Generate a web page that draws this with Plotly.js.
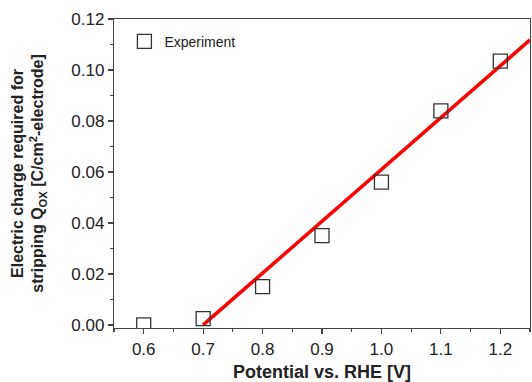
<!DOCTYPE html>
<html>
<head>
<meta charset="utf-8">
<script src="https://cdn.plot.ly/plotly-3.0.1.min.js"></script>
<style>html,body{margin:0;padding:0;background:#fff;}#chart{width:532px;height:382px;}</style>
</head>
<body>
<div id="chart"></div>
<script>
const potential = [0.6, 0.7, 0.8, 0.9, 1.0, 1.1, 1.2];
const charge = [0.000, 0.0025, 0.015, 0.035, 0.056, 0.084, 0.1035];
const fitX = [0.7, 1.25];
const fitY = [0.0, 0.1118];
const xTicks = [0.6, 0.7, 0.8, 0.9, 1.0, 1.1, 1.2];
const xTickText = ['0.6', '0.7', '0.8', '0.9', '1.0', '1.1', '1.2'];
const yTicks = [0.00, 0.02, 0.04, 0.06, 0.08, 0.10, 0.12];
const yTickText = ['0.00', '0.02', '0.04', '0.06', '0.08', '0.10', '0.12'];

const traces = [
  {
    x: fitX, y: fitY, mode: 'lines', showlegend: false,
    line: {color: '#ff0000', width: 3.5}, hoverinfo: 'skip'
  },
  {
    x: potential, y: charge, mode: 'markers', name: 'Experiment',
    marker: {symbol: 'square-open', size: 14, color: '#333', line: {width: 1.3, color: '#333'}}
  }
];

const axisCommon = {
  showgrid: false, zeroline: false, showline: true, linecolor: '#444', linewidth: 1.2,
  mirror: true, ticks: 'outside', ticklen: 5, tickwidth: 1.2, tickcolor: '#444',
  tickfont: {family: 'Liberation Sans, Arial, sans-serif', size: 17, color: '#222'},
  minor: {ticks: 'outside', ticklen: 3, tickwidth: 1.2, tickcolor: '#444'}
};

const layout = {
  width: 532, height: 382,
  margin: {l: 114, r: 2, t: 19, b: 54},
  paper_bgcolor: '#fff', plot_bgcolor: '#fff',
  showlegend: true,
  legend: {x: 0.025, y: 0.978, xanchor: 'left', yanchor: 'top', bgcolor: 'rgba(0,0,0,0)',
    itemwidth: 30,
    font: {family: 'Liberation Sans, Arial, sans-serif', size: 14, color: '#222'}},
  xaxis: Object.assign({}, axisCommon, {
    range: [0.55, 1.25], tickvals: xTicks, ticktext: xTickText,
    minor: Object.assign({}, axisCommon.minor, {dtick: 0.05, tick0: 0.55}),
    title: {text: '<b>Potential vs. RHE [V]</b>', standoff: 7,
      font: {family: 'Liberation Sans, Arial, sans-serif', size: 18, color: '#222'}}
  }),
  yaxis: Object.assign({}, axisCommon, {
    range: [-0.0012, 0.12], tickvals: yTicks, ticktext: yTickText,
    minor: Object.assign({}, axisCommon.minor, {dtick: 0.01, tick0: 0}),
    title: {text: '<b>Electric charge required for<br>stripping Q<sub>OX</sub> [C/cm<sup>2</sup>-electrode]</b>', standoff: 23,
      font: {family: 'Liberation Sans, Arial, sans-serif', size: 16, color: '#222'}}
  })
};

Plotly.newPlot('chart', traces, layout, {displayModeBar: false, staticPlot: true});
</script>
</body>
</html>
